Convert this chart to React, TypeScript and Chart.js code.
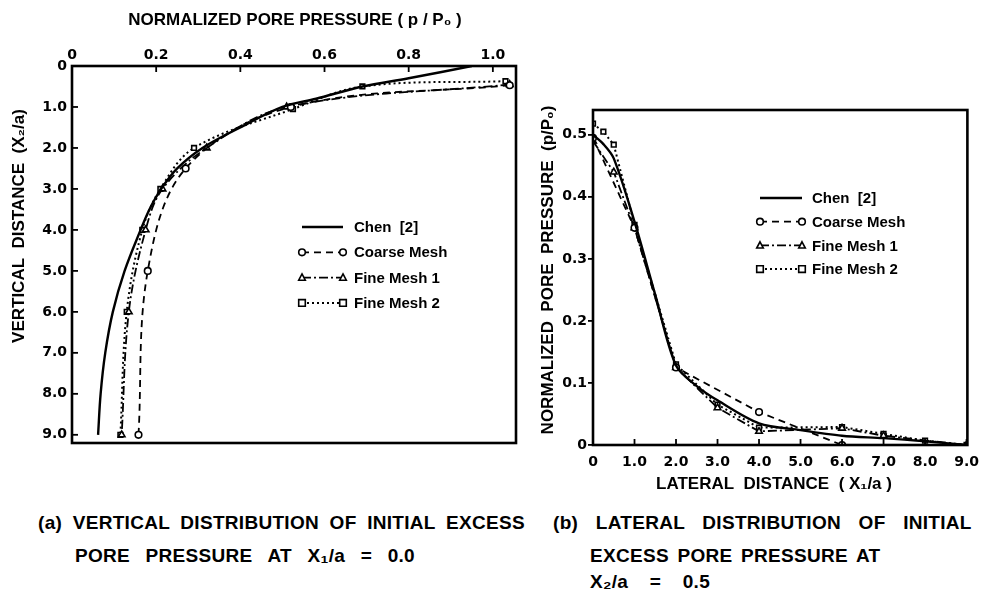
import React, { useEffect, useRef } from 'react';
import { Chart, registerables } from 'chart.js';

Chart.register(...registerables);

// ---------- Panel (a): vertical distribution (x = p/P0, y = X2/a) ----------
const aXTicks = [0, 0.2, 0.4, 0.6, 0.8, 1.0];
const aYTicks = [0, 1, 2, 3, 4, 5, 6, 7, 8, 9];

const aChenX = [0.95, 0.8, 0.69, 0.58, 0.5, 0.4, 0.31, 0.25, 0.212, 0.184, 0.163, 0.125, 0.097, 0.079, 0.068, 0.062];
const aChenY = [0, 0.3, 0.5, 0.8, 1.0, 1.5, 2.0, 2.5, 3.0, 3.5, 4.0, 5.0, 6.0, 7.0, 8.0, 9.0];

const aCoarseX = [1.04, 0.52, 0.27, 0.18, 0.158];
const aCoarseY = [0.47, 1.0, 2.5, 5.0, 9.0];

const aFine1X = [1.04, 0.51, 0.32, 0.215, 0.175, 0.135, 0.118];
const aFine1Y = [0.45, 1.0, 2.0, 3.0, 4.0, 6.0, 9.0];

const aFine2X = [1.03, 0.69, 0.525, 0.29, 0.21, 0.167, 0.13, 0.115];
const aFine2Y = [0.37, 0.5, 1.05, 2.0, 3.0, 4.0, 6.0, 9.0];

// ---------- Panel (b): lateral distribution (x = X1/a, y = p/P0) ----------
const bXTicks = [0, 1, 2, 3, 4, 5, 6, 7, 8, 9];
const bYTicks = [0, 0.1, 0.2, 0.3, 0.4, 0.5];

const bChenX = [0, 0.25, 0.5, 1.0, 1.5, 2.0, 2.5, 3.0, 4.0, 5.0, 6.0, 7.0, 8.0, 9.0];
const bChenY = [0.5, 0.485, 0.462, 0.36, 0.242, 0.128, 0.095, 0.072, 0.035, 0.024, 0.015, 0.011, 0.006, 0.0];

const bCoarseX = [0, 1.0, 2.0, 4.0, 6.0];
const bCoarseY = [0.495, 0.35, 0.125, 0.053, 0.0];

const bFine1X = [0, 0.5, 1.0, 2.0, 3.0, 4.0, 6.0, 7.0, 9.0];
const bFine1Y = [0.49, 0.44, 0.35, 0.125, 0.06, 0.022, 0.027, 0.015, 0.0];

const bFine2X = [0, 0.25, 0.5, 1.0, 2.0, 3.0, 4.0, 6.0, 7.0, 8.0, 9.0];
const bFine2Y = [0.518, 0.505, 0.484, 0.355, 0.13, 0.065, 0.028, 0.029, 0.018, 0.007, 0.0];

const seriesLabels = ['Chen  [2]', 'Coarse Mesh', 'Fine Mesh 1', 'Fine Mesh 2'];

const pts = (xs: number[], ys: number[]) => xs.map((x, i) => ({ x, y: ys[i] }));
const fmt = (v: number) => (v === 0 ? '0' : Number(v).toFixed(1));

const TICK_FONT = { family: '"DejaVu Sans", sans-serif', size: 14, weight: 'bold' as const };
const TITLE_FONT = 'bold 17px "Liberation Sans", sans-serif';
const LEGEND_FONT = 'bold 15px "Liberation Sans", sans-serif';

function drawMarker(ctx: CanvasRenderingContext2D, style: string, x: number, y: number, r: number) {
  ctx.save();
  ctx.setLineDash([]);
  ctx.fillStyle = '#fff';
  ctx.strokeStyle = '#000';
  ctx.lineWidth = 1.6;
  ctx.beginPath();
  if (style === 'circle') {
    ctx.arc(x, y, r, 0, Math.PI * 2);
  } else if (style === 'triangle') {
    ctx.moveTo(x, y - r * 1.1);
    ctx.lineTo(x + r, y + r * 0.8);
    ctx.lineTo(x - r, y + r * 0.8);
    ctx.closePath();
  } else if (style === 'rect') {
    ctx.rect(x - r, y - r, r * 2, r * 2);
  }
  ctx.fill();
  ctx.stroke();
  ctx.restore();
}

const legendPlugin = {
  id: 'sampleLegend',
  afterDraw(chart: any, _args: any, opts: any) {
    const { ctx } = chart;
    ctx.save();
    ctx.font = LEGEND_FONT;
    ctx.fillStyle = '#000';
    ctx.textBaseline = 'middle';
    chart.data.datasets.forEach((ds: any, i: number) => {
      const y = opts.y + i * opts.gap;
      ctx.save();
      ctx.strokeStyle = '#000';
      ctx.lineWidth = ds.borderWidth;
      ctx.setLineDash(ds.borderDash || []);
      ctx.beginPath();
      ctx.moveTo(opts.x, y);
      ctx.lineTo(opts.x + opts.len, y);
      ctx.stroke();
      ctx.restore();
      if (ds.pointRadius > 0) {
        drawMarker(ctx, ds.pointStyle, opts.x, y, 3.3);
        drawMarker(ctx, ds.pointStyle, opts.x + opts.len, y, 3.3);
      }
      ctx.fillText(ds.label, opts.x + opts.len + opts.textGap, y + 1);
    });
    ctx.restore();
  },
};

const titlePlugin = {
  id: 'axisTitles',
  afterDraw(chart: any, _args: any, opts: any) {
    const { ctx } = chart;
    (opts.items || []).forEach((it: any) => {
      ctx.save();
      ctx.translate(it.x, it.y);
      if (it.vertical) ctx.rotate(-Math.PI / 2);
      ctx.font = TITLE_FONT;
      ctx.fillStyle = '#000';
      ctx.textAlign = 'center';
      ctx.textBaseline = 'middle';
      ctx.fillText(it.text, 0, 0);
      ctx.restore();
    });
  },
};

const framePlugin = {
  id: 'frameTicks',
  afterDraw(chart: any, _args: any, opts: any) {
    const { ctx, chartArea } = chart;
    const { left, top, right, bottom } = chartArea;
    ctx.save();
    ctx.strokeStyle = '#000';
    ctx.lineWidth = 2.6;
    ctx.setLineDash([]);
    ctx.strokeRect(left, top, right - left, bottom - top);
    ctx.lineWidth = 1.8;
    (opts.ticks || []).forEach((t: any) => {
      const scale = chart.scales[t.id];
      scale.ticks.forEach((tk: any) => {
        const p = scale.getPixelForValue(tk.value);
        ctx.beginPath();
        if (t.side === 'top') {
          ctx.moveTo(p, top); ctx.lineTo(p, top + t.len);
        } else if (t.side === 'bottom') {
          ctx.moveTo(p, bottom); ctx.lineTo(p, bottom - t.len);
        } else if (t.side === 'left') {
          ctx.moveTo(left, p); ctx.lineTo(left + t.len, p);
        }
        ctx.stroke();
      });
    });
    ctx.restore();
  },
};

function makeDatasets(chen: any[], coarse: any[], fine1: any[], fine2: any[], tension: number, meshTension: number) {
  return [
    {
      label: seriesLabels[0], data: chen, borderColor: '#000', borderWidth: 2.4,
      pointRadius: 0, pointStyle: 'circle', tension, borderDash: [],
    },
    {
      label: seriesLabels[1], data: coarse, borderColor: '#000', borderWidth: 1.8, borderDash: [7, 5],
      pointRadius: 3.3, pointStyle: 'circle', pointBackgroundColor: '#fff', pointBorderColor: '#000',
      pointBorderWidth: 1.6, tension: meshTension,
    },
    {
      label: seriesLabels[2], data: fine1, borderColor: '#000', borderWidth: 1.8, borderDash: [9, 3, 2, 3],
      pointRadius: 3.8, pointStyle: 'triangle', pointBackgroundColor: '#fff', pointBorderColor: '#000',
      pointBorderWidth: 1.6, tension: meshTension,
    },
    {
      label: seriesLabels[3], data: fine2, borderColor: '#000', borderWidth: 2, borderDash: [2, 3],
      pointRadius: 3.3, pointStyle: 'rect', pointBackgroundColor: '#fff', pointBorderColor: '#000',
      pointBorderWidth: 1.6, tension: meshTension,
    },
  ];
}

function ChartA() {
  const ref = useRef<HTMLCanvasElement>(null);
  useEffect(() => {
    const chart = new Chart(ref.current as HTMLCanvasElement, {
      type: 'line',
      data: {
        datasets: makeDatasets(pts(aChenX, aChenY), pts(aCoarseX, aCoarseY), pts(aFine1X, aFine1Y), pts(aFine2X, aFine2Y), 0.35, 0.35) as any,
      },
      options: {
        responsive: false,
        animation: false,
        layout: { padding: { left: 0, top: 0, right: 14, bottom: 17 } },
        plugins: {
          legend: { display: false },
          tooltip: { enabled: false },
          sampleLegend: { x: 302, y: 227, gap: 25.3, len: 41, textGap: 11 },
          frameTicks: { ticks: [{ id: 'x', side: 'top', len: 6 }, { id: 'y', side: 'left', len: 6 }] },
          axisTitles: {
            items: [
              { text: 'NORMALIZED PORE PRESSURE ( p / P₀ )', x: 295, y: 20 },
              { text: 'VERTICAL  DISTANCE  (X₂/a)', x: 19, y: 226, vertical: true },
            ],
          },
        } as any,
        scales: {
          x: {
            type: 'linear', position: 'top', min: 0, max: 1.055,
            afterBuildTicks: (s: any) => { s.ticks = aXTicks.map((v) => ({ value: v })); },
            afterFit: (s: any) => { s.height = 66; },
            ticks: { callback: (v: any) => fmt(v), font: TICK_FONT, color: '#000', padding: 2, maxRotation: 0, autoSkip: false },
            grid: { display: false, drawTicks: false },
            border: { display: false },
            title: { display: false },
          },
          y: {
            type: 'linear', reverse: true, min: 0, max: 9.2,
            afterBuildTicks: (s: any) => { s.ticks = aYTicks.map((v) => ({ value: v })); },
            afterFit: (s: any) => { s.width = 72; },
            ticks: { callback: (v: any) => fmt(v), font: TICK_FONT, color: '#000', padding: 5, autoSkip: false },
            grid: { display: false, drawTicks: false },
            border: { display: false },
            title: { display: false },
          },
        },
      } as any,
      plugins: [legendPlugin, framePlugin, titlePlugin],
    });
    return () => chart.destroy();
  }, []);
  return <canvas ref={ref} width={530} height={460} style={{ position: 'absolute', left: 0, top: 0, width: 530, height: 460 }} />;
}

function ChartB() {
  const ref = useRef<HTMLCanvasElement>(null);
  useEffect(() => {
    const chart = new Chart(ref.current as HTMLCanvasElement, {
      type: 'line',
      data: {
        datasets: makeDatasets(pts(bChenX, bChenY), pts(bCoarseX, bCoarseY), pts(bFine1X, bFine1Y), pts(bFine2X, bFine2Y), 0.3, 0) as any,
      },
      options: {
        responsive: false,
        animation: false,
        layout: { padding: { left: 0, top: 110, right: 19, bottom: 10 } },
        plugins: {
          legend: { display: false },
          tooltip: { enabled: false },
          sampleLegend: { x: 230, y: 198, gap: 23.7, len: 42, textGap: 10 },
          frameTicks: { ticks: [{ id: 'x', side: 'bottom', len: 6 }] },
          axisTitles: {
            items: [
              { text: 'LATERAL  DISTANCE  ( X₁/a )', x: 244, y: 484 },
              { text: 'NORMALIZED  PORE  PRESSURE  (p/P₀)', x: 18, y: 270, vertical: true },
            ],
          },
        } as any,
        scales: {
          x: {
            type: 'linear', position: 'bottom', min: 0, max: 9.02,
            afterBuildTicks: (s: any) => { s.ticks = bXTicks.map((v) => ({ value: v })); },
            afterFit: (s: any) => { s.height = 55; },
            ticks: { callback: (v: any) => fmt(v), font: TICK_FONT, color: '#000', padding: 9, maxRotation: 0, autoSkip: false },
            grid: { display: false, drawTicks: false },
            border: { display: false },
            title: { display: false },
          },
          y: {
            type: 'linear', min: 0, max: 0.54,
            afterBuildTicks: (s: any) => { s.ticks = bYTicks.map((v) => ({ value: v })); },
            afterFit: (s: any) => { s.width = 63; },
            ticks: { callback: (v: any) => fmt(v), font: TICK_FONT, color: '#000', padding: 1, autoSkip: false },
            grid: { display: true, drawOnChartArea: false, drawTicks: true, tickLength: 5, color: '#000', lineWidth: 1.8 },
            border: { display: false },
            title: { display: false },
          },
        },
      } as any,
      plugins: [legendPlugin, framePlugin, titlePlugin],
    });
    return () => chart.destroy();
  }, []);
  return <canvas ref={ref} width={458} height={510} style={{ position: 'absolute', left: 530, top: 0, width: 458, height: 510 }} />;
}

const capStyle: React.CSSProperties = {
  position: 'absolute',
  fontFamily: '"Liberation Sans", sans-serif',
  fontWeight: 'bold',
  fontSize: 19,
  color: '#000',
  whiteSpace: 'nowrap',
  lineHeight: '22px',
  letterSpacing: 0.3,
};

export default function App() {
  return (
    <div style={{ position: 'absolute', left: 0, top: 0, width: 988, height: 592, background: '#fff', overflow: 'hidden' }}>
      <ChartA />
      <ChartB />
      <div style={{ ...capStyle, left: 38, top: 512, wordSpacing: 5 }}>(a) VERTICAL DISTRIBUTION OF INITIAL EXCESS</div>
      <div style={{ ...capStyle, left: 75, top: 545, wordSpacing: 10 }}>PORE PRESSURE AT X₁/a = 0.0</div>
      <div style={{ ...capStyle, left: 553, top: 512, wordSpacing: 12 }}>(b) LATERAL DISTRIBUTION OF INITIAL</div>
      <div style={{ ...capStyle, left: 590, top: 545, wordSpacing: 3 }}>EXCESS PORE PRESSURE AT</div>
      <div style={{ ...capStyle, left: 590, top: 571, wordSpacing: 16 }}>X₂/a = 0.5</div>
    </div>
  );
}
